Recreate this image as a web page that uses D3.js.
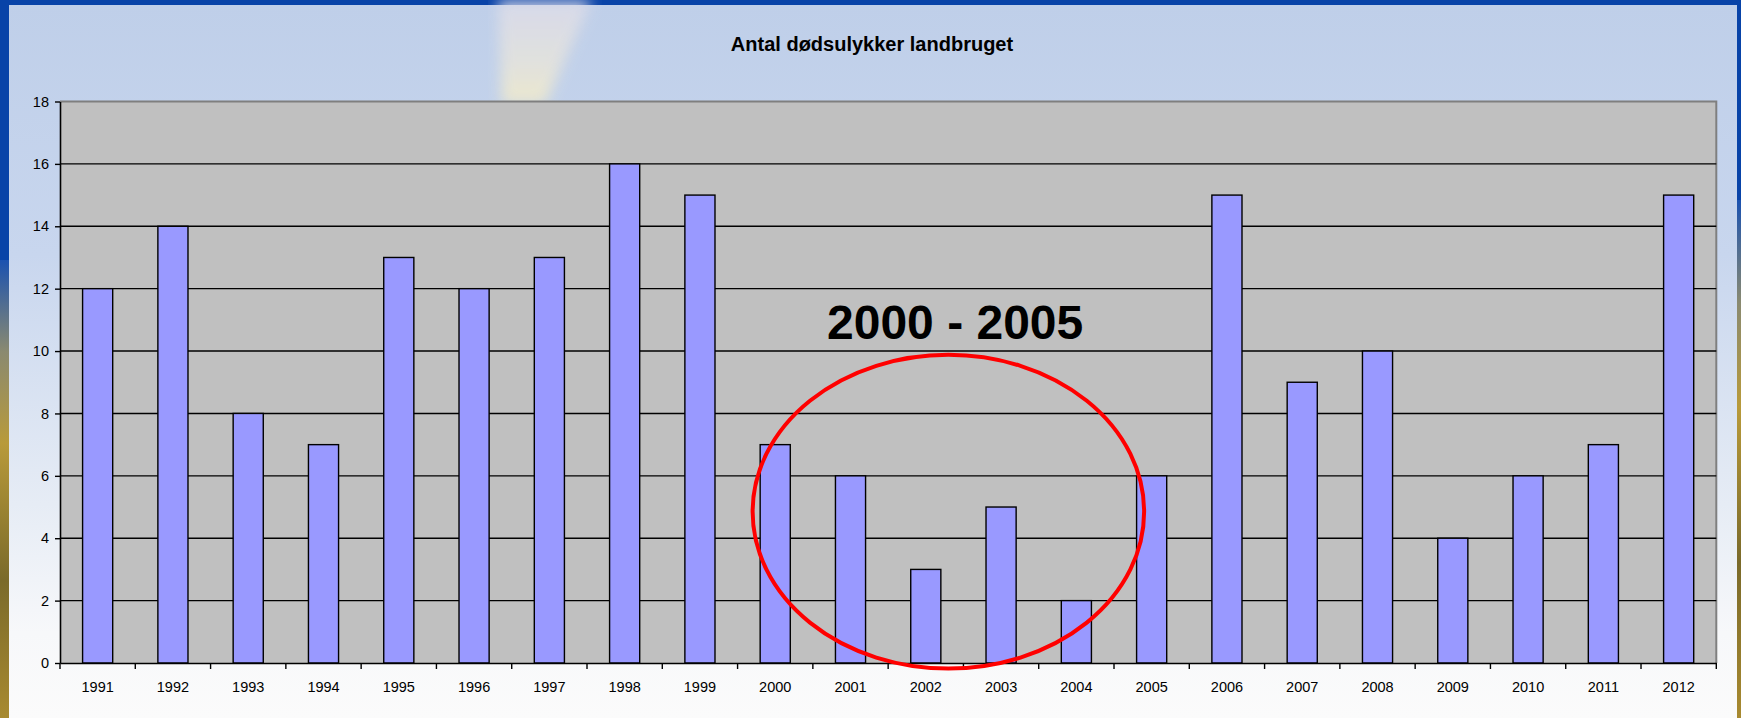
<!DOCTYPE html>
<html>
<head>
<meta charset="utf-8">
<script src="https://cdn.jsdelivr.net/npm/d3@7"></script>
<style>
  body { margin: 0; overflow: hidden; background: #0843a8; }
  svg { display: block; }
  text { font-family: "Liberation Sans", Arial, sans-serif; }
</style>
</head>
<body>
<script>
const w = 1741;
const h = 718;
const margin = { top: 101.5, right: 24.7, bottom: 55, left: 60 };

const years = ["1991", "1992", "1993", "1994", "1995", "1996", "1997", "1998", "1999", "2000", "2001",
  "2002", "2003", "2004", "2005", "2006", "2007", "2008", "2009", "2010", "2011", "2012"];
const deaths = [12, 14, 8, 7, 13, 12, 13, 16, 15, 7, 6, 3, 5, 2, 6, 15, 9, 10, 4, 6, 7, 15];
const yTicks = [0, 2, 4, 6, 8, 10, 12, 14, 16, 18];

const title = "Antal dødsulykker landbruget";
const note = "2000 - 2005";

const data = years.map((y, i) => ({ year: y, value: deaths[i] }));

const svg = d3.select("body")
  .append("svg")
  .attr("width", w)
  .attr("height", h);

// BACKGROUND (slide frame + sky)
const defs = svg.append("defs");

const sky = defs.append("linearGradient")
  .attr("id", "sky")
  .attr("x1", 0).attr("y1", 0).attr("x2", 0).attr("y2", 1);
sky.append("stop").attr("offset", "0%").attr("stop-color", "#bfcfe9");
sky.append("stop").attr("offset", "35%").attr("stop-color", "#c8d6ee");
sky.append("stop").attr("offset", "70%").attr("stop-color", "#e6ecf5");
sky.append("stop").attr("offset", "88%").attr("stop-color", "#f7f8fa");
sky.append("stop").attr("offset", "100%").attr("stop-color", "#fbfbfb");

const land = defs.append("linearGradient")
  .attr("id", "land")
  .attr("x1", 0).attr("y1", 0).attr("x2", 0).attr("y2", 1);
land.append("stop").attr("offset", "0%").attr("stop-color", "#1b52b0");
land.append("stop").attr("offset", "20%").attr("stop-color", "#8a8a70");
land.append("stop").attr("offset", "40%").attr("stop-color", "#b89a3a");
land.append("stop").attr("offset", "70%").attr("stop-color", "#7a6a2a");
land.append("stop").attr("offset", "100%").attr("stop-color", "#a88a30");

const streak = defs.append("linearGradient")
  .attr("id", "streak")
  .attr("x1", 0).attr("y1", 0).attr("x2", 0).attr("y2", 1);
streak.append("stop").attr("offset", "0%").attr("stop-color", "#dcdcea");
streak.append("stop").attr("offset", "60%").attr("stop-color", "#e6e4dc");
streak.append("stop").attr("offset", "100%").attr("stop-color", "#f4ecc8");

defs.append("filter")
  .attr("id", "blur")
  .append("feGaussianBlur")
  .attr("stdDeviation", 7);

svg.append("rect")
  .attr("width", w).attr("height", h)
  .attr("fill", "#0843a8");

svg.append("rect")
  .attr("x", 0).attr("y", 260)
  .attr("width", 12).attr("height", h - 260)
  .attr("fill", "url(#land)");

svg.append("rect")
  .attr("x", w - 8).attr("y", 200)
  .attr("width", 8).attr("height", h - 200)
  .attr("fill", "url(#land)");

svg.append("rect")
  .attr("x", 9).attr("y", 5)
  .attr("width", 1728).attr("height", h - 5)
  .attr("fill", "url(#sky)");

// sun streak
svg.append("path")
  .attr("d", "M498,0 L592,0 L545,104 L502,104 Z")
  .attr("fill", "url(#streak)")
  .attr("opacity", 0.85)
  .attr("filter", "url(#blur)");

// SCALES
const x = d3.scaleBand()
  .domain(years)
  .range([margin.left, w - margin.right])
  .paddingInner(0.6)
  .paddingOuter(0.3);

const y = d3.scaleLinear()
  .domain([0, 18])
  .range([h - margin.bottom, margin.top]);

const x0 = margin.left;
const x1 = w - margin.right;

// PLOT AREA
svg.append("rect")
  .attr("x", x0)
  .attr("y", y(18))
  .attr("width", x1 - x0)
  .attr("height", y(0) - y(18))
  .attr("fill", "#c0c0c0");

svg.append("path")
  .attr("d", `M${x0},${y(18)}H${x1}V${y(0)}`)
  .attr("fill", "none")
  .attr("stroke", "#7f7f7f")
  .attr("stroke-width", 2);

// GRIDLINES
svg.append("g")
  .selectAll("line")
  .data(yTicks.filter(d => d > 0 && d < 18))
  .join("line")
  .attr("x1", x0)
  .attr("x2", x1)
  .attr("y1", d => y(d))
  .attr("y2", d => y(d))
  .attr("stroke", "#000")
  .attr("stroke-width", 1.4);

// BARS
svg.append("g")
  .selectAll("rect")
  .data(data)
  .join("rect")
  .attr("x", d => x(d.year))
  .attr("y", d => y(d.value))
  .attr("width", x.bandwidth())
  .attr("height", d => y(0) - y(d.value))
  .attr("fill", "#9999ff")
  .attr("stroke", "#000")
  .attr("stroke-width", 1.4);

// AXES
const yAxis = svg.append("g")
  .attr("transform", `translate(${x0}, 0)`)
  .call(d3.axisLeft(y).tickValues(yTicks).tickSize(5).tickSizeOuter(0).tickPadding(6));

const xAxis = svg.append("g")
  .attr("transform", `translate(0, ${y(0)})`)
  .call(d3.axisBottom(x).tickSize(0).tickPadding(19));

// category boundary ticks
const bounds = years.map(d => x(d) - x.step() * x.paddingOuter()).concat([x1]);
xAxis.selectAll(".bound")
  .data(bounds)
  .join("line")
  .attr("class", "bound")
  .attr("x1", d => d).attr("x2", d => d)
  .attr("y1", 0).attr("y2", 6)
  .attr("stroke", "#000")
  .attr("stroke-width", 1.4);

[yAxis, xAxis].forEach(g => {
  g.select(".domain").attr("stroke", "#000").attr("stroke-width", 1.6);
  g.selectAll(".tick line").attr("stroke", "#000").attr("stroke-width", 1.4);
  g.selectAll(".tick text")
    .attr("fill", "#000")
    .style("font-family", "'Liberation Sans', Arial, sans-serif")
    .style("font-size", "14.5px");
});

// TITLE
svg.append("text")
  .attr("x", 872)
  .attr("y", 51)
  .attr("text-anchor", "middle")
  .style("font-size", "20px")
  .style("font-weight", "bold")
  .attr("fill", "#000")
  .text(title);

// ANNOTATION
const step = x.step();
const pos = k => x0 + k * step;

svg.append("text")
  .attr("x", pos(11.89))
  .attr("y", y(10.38))
  .attr("text-anchor", "middle")
  .style("font-size", "48px")
  .style("font-weight", "bold")
  .attr("fill", "#000")
  .text(note);

svg.append("ellipse")
  .attr("cx", (pos(9.2) + pos(14.4)) / 2)
  .attr("cy", (y(9.88) + y(-0.18)) / 2)
  .attr("rx", (pos(14.4) - pos(9.2)) / 2)
  .attr("ry", (y(-0.18) - y(9.88)) / 2)
  .attr("fill", "none")
  .attr("stroke", "#ff0000")
  .attr("stroke-width", 4);
</script>
</body>
</html>
